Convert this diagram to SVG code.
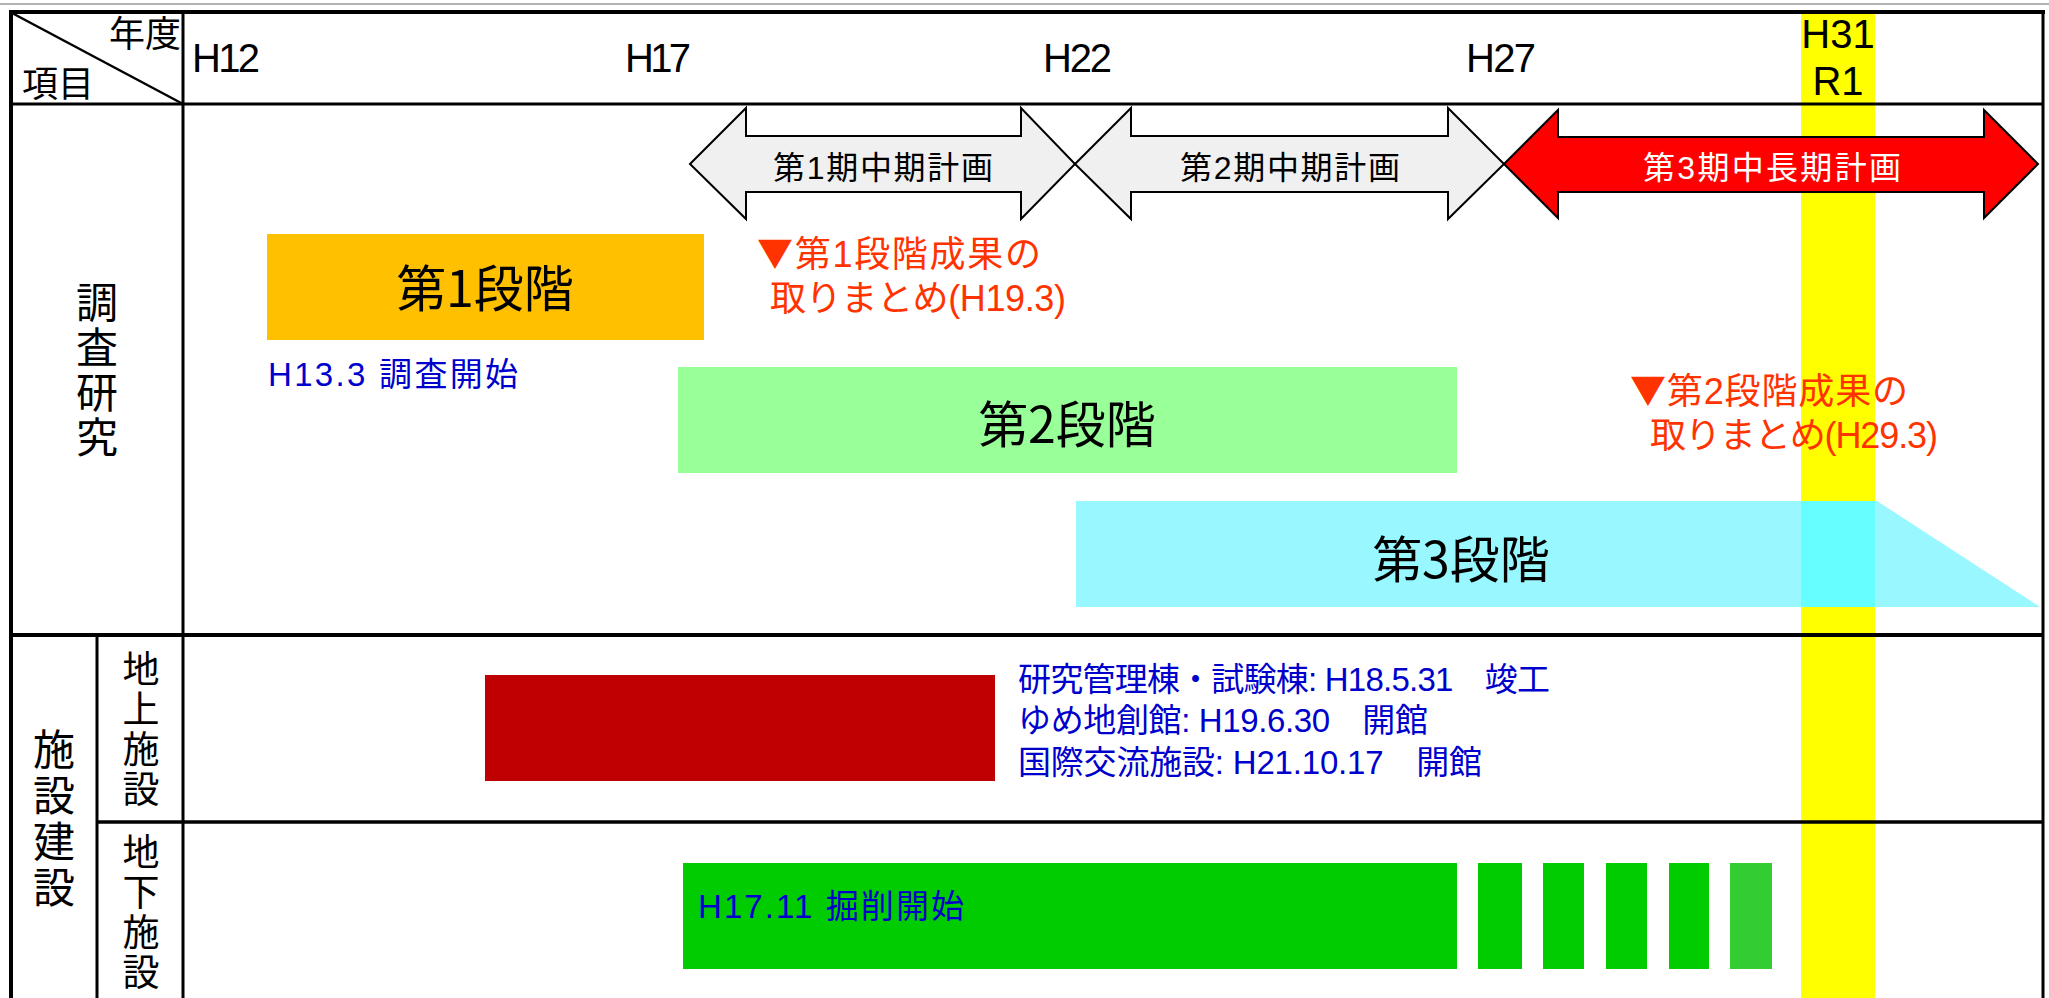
<svg xmlns="http://www.w3.org/2000/svg" width="2049" height="998" viewBox="0 0 2049 998">
<style>
text{font-family:"Liberation Sans","Noto Sans CJK JP",sans-serif;}
.jp{font-family:"Noto Sans CJK JP",sans-serif;}
.yr{font-size:40px;fill:#000;}
.hd{font-size:36px;fill:#000;}
.vt{writing-mode:vertical-rl;fill:#000;font-family:"Noto Sans CJK JP",sans-serif;}
.ln{stroke:#000;fill:none;}
.arr{stroke:#000;stroke-width:2;stroke-linejoin:miter;}
.plan{font-size:32px;text-anchor:middle;}
.stage{font-size:50px;text-anchor:middle;fill:#000;}
.blue{fill:#0000CC;font-size:33px;}
.red{fill:#FF3300;font-size:36px;}
</style>
<rect x="0" y="0" width="2049" height="998" fill="#fff"/>

<g id="band-r1">
<rect x="1801" y="12" width="74" height="986" fill="#FFFF00"/>
</g>

<g id="stage1">
<rect x="267" y="234" width="437" height="106" fill="#FFC000"/>
<text class="stage jp" x="485" y="307">第1段階</text>
</g>
<g id="stage2">
<rect x="678" y="367" width="779" height="106" fill="#99FF99"/>
<text class="stage jp" x="1067" y="443">第2段階</text>
</g>
<g id="stage3">
<polygon points="1076,501 1877,501 2040,607 1076,607" fill="#99F8FF"/>
<rect x="1801" y="501" width="74" height="106" fill="#66FFFF"/>
<text class="stage jp" x="1461" y="578">第3段階</text>
</g>

<g id="plan1">
<path class="arr" d="M690,164 L746,108 L746,136 L1021,136 L1021,108 L1075,164 L1021,219 L1021,192 L746,192 L746,219 Z" fill="#F0F0F0"/>
<text class="plan" x="883" y="179" textLength="220" fill="#000">第1期中期計画</text>
</g>
<g id="plan2">
<path class="arr" d="M1075,164 L1131,108 L1131,136 L1448,136 L1448,108 L1504,164 L1448,219 L1448,192 L1131,192 L1131,219 Z" fill="#F0F0F0"/>
<text class="plan" x="1290" y="179" textLength="220" fill="#000">第2期中期計画</text>
</g>
<g id="plan3">
<path class="arr" d="M1504,164 L1558,110 L1558,137 L1984,137 L1984,110 L2038,164 L1984,218 L1984,192 L1558,192 L1558,218 Z" fill="#FF0000"/>
<text class="plan" x="1772" y="179" textLength="258" fill="#fff">第3期中長期計画</text>
</g>

<g id="note-stage1">
<text class="red" x="757" y="267" textLength="284"><tspan class="jp">▼</tspan>第1段階成果の</text>
<text class="red" x="770" y="311" textLength="296">取りまとめ(H19.3)</text>
</g>
<g id="note-stage2">
<text class="red" x="1630" y="404" textLength="278"><tspan class="jp">▼</tspan>第2段階成果の</text>
<text class="red" x="1650" y="448" textLength="288">取りまとめ(H29.3)</text>
</g>
<g id="note-start">
<text class="blue" x="268" y="386" textLength="250">H13.3 調査開始</text>
</g>

<g id="surface">
<rect x="485" y="675" width="510" height="106" fill="#C00000"/>
<text class="blue" x="1018" y="691" textLength="532">研究管理棟・試験棟: H18.5.31　竣工</text>
<text class="blue" x="1018" y="732" textLength="410">ゆめ地創館: H19.6.30　開館</text>
<text class="blue" x="1018" y="774" textLength="464">国際交流施設: H21.10.17　開館</text>
</g>

<g id="underground">
<rect x="683" y="863" width="774" height="106" fill="#00CC00"/>
<rect x="1478" y="863" width="44" height="106" fill="#00CC00"/>
<rect x="1543" y="863" width="41" height="106" fill="#00CC00"/>
<rect x="1606" y="863" width="41" height="106" fill="#00CC00"/>
<rect x="1669" y="863" width="40" height="106" fill="#00CC00"/>
<rect x="1730" y="863" width="42" height="106" fill="#33CC33"/>
<text class="blue" x="698" y="918" textLength="266">H17.11 掘削開始</text>
</g>

<g id="connectors">
<line x1="0" y1="4" x2="2049" y2="4" stroke="#999" stroke-width="1.5"/>
<line class="ln" x1="9" y1="12" x2="2045" y2="12" stroke-width="4"/>
<line class="ln" x1="11" y1="10" x2="11" y2="998" stroke-width="4"/>
<line class="ln" x1="2043" y1="10" x2="2043" y2="998" stroke-width="3"/>
<line class="ln" x1="11" y1="104" x2="2043" y2="104" stroke-width="3"/>
<line class="ln" x1="183" y1="12" x2="183" y2="998" stroke-width="3"/>
<line class="ln" x1="12" y1="13" x2="183" y2="104" stroke-width="2.5"/>
<line class="ln" x1="11" y1="635" x2="2043" y2="635" stroke-width="4"/>
<line class="ln" x1="97" y1="635" x2="97" y2="998" stroke-width="3"/>
<line class="ln" x1="97" y1="822" x2="2043" y2="822" stroke-width="3.5"/>
</g>

<g id="header">
<text class="hd jp" x="181" y="47" text-anchor="end">年度</text>
<text class="hd jp" x="22" y="97">項目</text>
<text class="yr" x="192" y="72" textLength="68">H12</text>
<text class="yr" x="625" y="72" textLength="66">H17</text>
<text class="yr" x="1043" y="72" textLength="69">H22</text>
<text class="yr" x="1466" y="72" textLength="70">H27</text>
<text class="yr" x="1838" y="48" text-anchor="middle">H31</text>
<text class="yr" x="1838" y="95" text-anchor="middle">R1</text>
</g>

<g id="label-research">
<text class="vt" x="97" y="281" font-size="42" letter-spacing="3">調査研究</text>
</g>
<g id="label-construction">
<text class="vt" x="54" y="728" font-size="42" letter-spacing="4">施設建設</text>
</g>
<g id="label-surface">
<text class="vt" x="141" y="650" font-size="37" letter-spacing="3">地上施設</text>
</g>
<g id="label-underground">
<text class="vt" x="141" y="833" font-size="37" letter-spacing="3">地下施設</text>
</g>
</svg>
